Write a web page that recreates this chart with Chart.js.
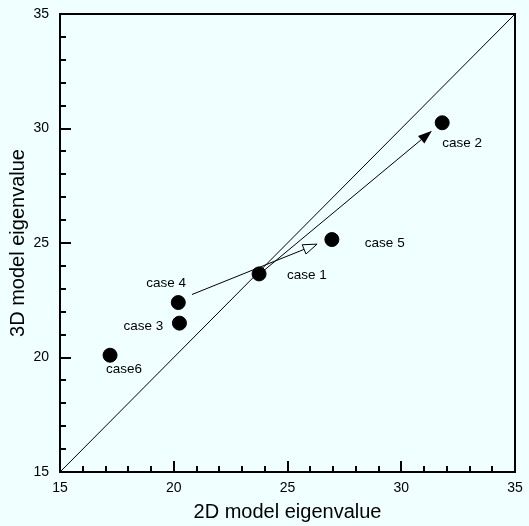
<!DOCTYPE html>
<html>
<head>
<meta charset="utf-8">
<script src="https://cdn.jsdelivr.net/npm/chart.js@4.4.0/dist/chart.umd.min.js"></script>
<style>
    html, body { margin: 0; padding: 0; background: #f0ffff; }
    #wrap { width: 529px; height: 526px; }
</style>
</head>
<body>
<div id="wrap"><canvas id="eigenChart"></canvas></div>
<script>

const caseNames = ["case 1", "case 2", "case 3", "case 4", "case 5", "case6"];
const eig2D = [23.75, 31.8, 20.25, 20.2, 26.95, 17.2];
const eig3D = [23.65, 30.25, 21.5, 22.4, 25.15, 20.1];

const diagonalX = [15, 35];
const diagonalY = [15, 35];

// arrows: from -> to, in data units
const arrowFromX = [23.6, 20.8];
const arrowFromY = [23.5, 22.75];
const arrowToX = [31.35, 26.3];
const arrowToY = [29.9, 24.95];
const arrowHeads = ["solid", "hollow"];

const axisTicks = [15, 20, 25, 30, 35];

// label placement relative to the dot (px)
const labelOffsets = [[28, 1], [0, 21], [-56, 3], [-32, -19], [33, 4], [-4, 14]];

const BG = "#f0ffff";
const FONT = "'Liberation Sans', Arial, sans-serif";


function drawArrow(ctx, x0, y0, x1, y1, head) {
    const ang = Math.atan2(y1 - y0, x1 - x0);
    const len = 14, half = 5;
    const bx = x1 - len * Math.cos(ang);
    const by = y1 - len * Math.sin(ang);
    const px = -Math.sin(ang) * half;
    const py = Math.cos(ang) * half;

    ctx.beginPath();
    ctx.moveTo(x0, y0);
    ctx.lineTo(bx, by);
    ctx.stroke();

    ctx.beginPath();
    ctx.moveTo(x1, y1);
    ctx.lineTo(bx + px, by + py);
    ctx.lineTo(bx - px, by - py);
    ctx.closePath();
    if (head === "solid") {
        ctx.fillStyle = "#000";
        ctx.fill();
    } else {
        ctx.fillStyle = BG;
        ctx.fill();
        ctx.stroke();
    }
}

// fixed scale boxes so the plot area lands where the original has it
function fixBox(size) {
    return s => {
        if (s.isHorizontal()) s.height = size; else s.width = size;
        s.paddingTop = 0;
        s.paddingBottom = 0;
        s.paddingLeft = 0;
        s.paddingRight = 0;
    };
}


const extras = {
    id: "extras",
    beforeDraw(chart) {
        const ctx = chart.ctx;
        ctx.save();
        ctx.fillStyle = BG;
        ctx.fillRect(0, 0, chart.width, chart.height);
        ctx.restore();
    },
    afterDatasetsDraw(chart) {
        const ctx = chart.ctx;
        const xs = chart.scales.x;
        const ys = chart.scales.y;
        ctx.save();
        ctx.strokeStyle = "#000";
        ctx.lineWidth = 1;
        arrowFromX.forEach((_, i) => {
            drawArrow(ctx,
                xs.getPixelForValue(arrowFromX[i]), ys.getPixelForValue(arrowFromY[i]),
                xs.getPixelForValue(arrowToX[i]), ys.getPixelForValue(arrowToY[i]),
                arrowHeads[i]);
        });

        ctx.fillStyle = "#000";
        ctx.font = "13.5px " + FONT;
        ctx.textAlign = "left";
        ctx.textBaseline = "middle";
        caseNames.forEach((name, i) => {
            const px = xs.getPixelForValue(eig2D[i]);
            const py = ys.getPixelForValue(eig3D[i]);
            ctx.fillText(name, px + labelOffsets[i][0], py + labelOffsets[i][1]);
        });
        ctx.restore();
    },
    afterDraw(chart) {
        const ctx = chart.ctx;
        const a = chart.chartArea;
        const xs = chart.scales.x;
        const ys = chart.scales.y;
        ctx.save();
        ctx.strokeStyle = "#000";
        ctx.lineWidth = 2;
        ctx.strokeRect(a.left, a.top, a.right - a.left, a.bottom - a.top);

        // inward ticks, minor every 1
        ctx.beginPath();
        for (let v = 15; v <= 35; v++) {
            const major = v % 5 === 0;
            const len = major ? 11 : 6;
            const x = Math.round(xs.getPixelForValue(v));
            ctx.moveTo(x, a.bottom);
            ctx.lineTo(x, a.bottom - len);
            const y = Math.round(ys.getPixelForValue(v));
            ctx.moveTo(a.left, y);
            ctx.lineTo(a.left + len, y);
        }
        ctx.stroke();
        ctx.restore();
    }
};


new Chart(document.querySelector("#eigenChart"), {
    type: "scatter",
    data: {
        datasets: [
            {
                type: "line",
                data: diagonalX.map((x, i) => ({ x, y: diagonalY[i] })),
                borderColor: "#000",
                borderWidth: 1,
                pointRadius: 0,
                fill: false
            },
            {
                data: eig2D.map((x, i) => ({ x, y: eig3D[i] })),
                backgroundColor: "#000",
                borderColor: "#000",
                pointRadius: 7
            }
        ]
    },
    options: {
        responsive: true,
        maintainAspectRatio: false,
        animation: false,
        layout: { autoPadding: false, padding: { top: 14, right: 14, left: 0, bottom: 0 } },
        plugins: {
            legend: { display: false },
            tooltip: { enabled: false }
        },
        scales: {
            x: {
                type: "linear",
                min: 15,
                max: 35,
                afterBuildTicks: s => { s.ticks = axisTicks.map(v => ({ value: v })); },
                afterFit: fixBox(54),
                grid: { display: false, drawTicks: false },
                border: { display: false },
                ticks: {
                    padding: 8,
                    color: "#000",
                    maxRotation: 0,
                    autoSkip: false,
                    font: { size: 14, family: FONT }
                },
                title: {
                    display: true,
                    text: "2D model eigenvalue",
                    color: "#000",
                    font: { size: 20, family: FONT },
                    padding: { top: 0, bottom: 2 }
                }
            },
            y: {
                type: "linear",
                min: 15,
                max: 35,
                afterBuildTicks: s => { s.ticks = axisTicks.map(v => ({ value: v })); },
                afterFit: fixBox(60),
                grid: { display: false, drawTicks: false },
                border: { display: false },
                ticks: {
                    padding: 11,
                    color: "#000",
                    autoSkip: false,
                    font: { size: 14, family: FONT }
                },
                title: {
                    display: true,
                    text: "3D model eigenvalue",
                    color: "#000",
                    font: { size: 20, family: FONT },
                    padding: { top: 6, bottom: 0 }
                }
            }
        }
    },
    plugins: [extras]
});
</script>
</body>
</html>
